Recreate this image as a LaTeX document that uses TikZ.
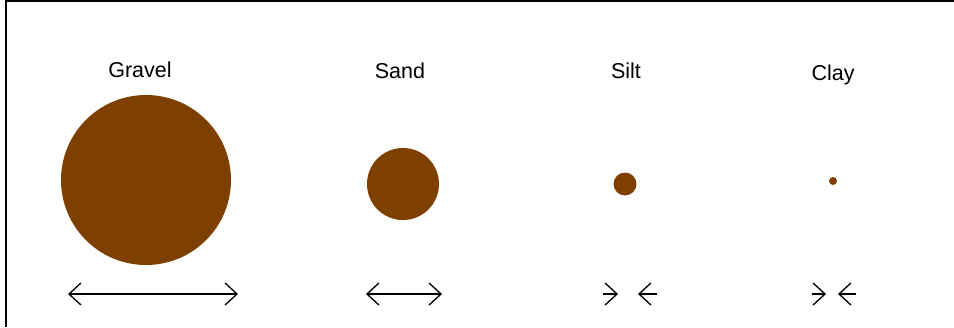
\documentclass[tikz,border=0pt]{standalone}
\usepackage{fontspec}
\setmainfont{Liberation Sans}
\usepackage{tikz}
\usetikzlibrary{
    arrows.meta,
    positioning
}
\definecolor{soilbrown}{HTML}{7E4000}

\begin{document}
\begin{tikzpicture}[x=1pt,y=-1pt,
    grain/.style={circle,fill=soilbrown,inner sep=0pt},
    soil/.style={font=\fontsize{21.5}{24}\selectfont,anchor=base,inner sep=0pt},
    size/.style={line width=1.3pt,-{Straight Barb[length=12pt,width=22pt,line width=1.3pt]}}
]

% Frame
\useasboundingbox (0,0) rectangle (954,327);
\draw[line width=2.5pt] (6,327) -- (6,1) -- (954,1);

% Labels
\node[soil] (gravel-lbl) at (140,77) {Gravel};
\node[soil] (sand-lbl) at (400,78) {Sand};
\node[soil] (silt-lbl) at (626,78) {Silt};
\node[soil] (clay-lbl) at (833,80) {Clay};

% Grains
\node[grain,minimum size=170pt] (gravel) at (146,180) {};
\node[grain,minimum size=72pt] (sand) at (403,184) {};
\node[grain,minimum size=23pt] (silt) at (625,184) {};
\node[grain,minimum size=8pt] (clay) at (833,181) {};

% Gravel size
\coordinate (gravel-l) at (68,294);
\coordinate (gravel-r) at (238,294);
\coordinate (gravel-m) at (153,294);
\draw[size] (gravel-m) -- (gravel-l);
\draw[size] (gravel-m) -- (gravel-r);

% Sand size
\coordinate (sand-l) at (366,294);
\coordinate (sand-r) at (442,294);
\coordinate (sand-m) at (404,294);
\draw[size] (sand-m) -- (sand-l);
\draw[size] (sand-m) -- (sand-r);

% Silt size
\coordinate (silt-a) at (603,294);
\coordinate (silt-b) at (618,294);
\coordinate (silt-c) at (638,294);
\coordinate (silt-d) at (657,294);
\draw[size] (silt-a) -- (silt-b);
\draw[size] (silt-d) -- (silt-c);

% Clay size
\coordinate (clay-a) at (812,294);
\coordinate (clay-b) at (826,294);
\coordinate (clay-c) at (838,294);
\coordinate (clay-d) at (856,294);
\draw[size] (clay-a) -- (clay-b);
\draw[size] (clay-d) -- (clay-c);

\end{tikzpicture}
\end{document}
